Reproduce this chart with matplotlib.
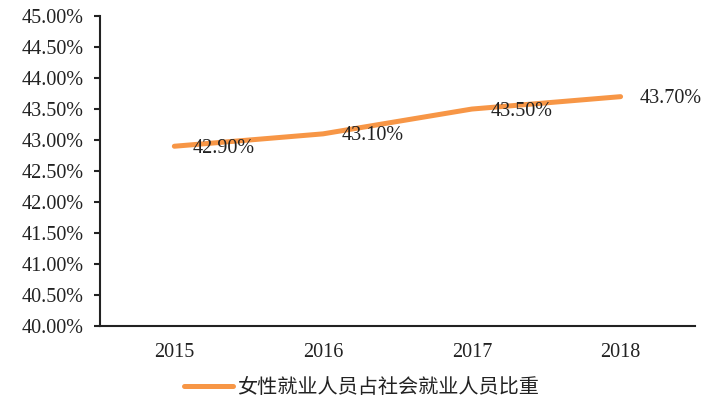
import matplotlib.pyplot as plt
from matplotlib.ticker import FuncFormatter

years = ['2015', '2016', '2017', '2018']
ratio = [42.90, 43.10, 43.50, 43.70]
label = '女性就业人员占社会就业人员比重'

plt.rcParams['font.family'] = ['Liberation Serif', 'Noto Sans CJK SC']

fig = plt.figure(figsize=(7.1, 4.12), dpi=100)
ax = fig.add_axes([0.1408, 0.2087, 0.838, 0.7523])

x = range(len(years))
ax.plot(x, ratio, color='#F79646', lw=3.6, solid_capstyle='round', label=label)
for xi, v in zip(x, ratio):
    ax.annotate('%.2f%%' % v, (xi, v), xytext=(13.5, -1.5), textcoords='offset points',
                ha='left', va='center', fontsize=14.5, color='#222222')

ax.set_xlim(-0.5, len(years) - 0.5)
ax.set_ylim(40, 45)
ax.set_yticks([40 + 0.5 * i for i in range(11)])
ax.yaxis.set_major_formatter(FuncFormatter(lambda v, p: '%.2f%%' % v))
ax.set_xticks(list(x))
ax.set_xticklabels(years)
ax.tick_params(axis='x', length=0, pad=12, labelsize=14.5, labelcolor='#222222')
ax.tick_params(axis='y', length=4.5, width=1.5, labelsize=14.5, pad=7.5,
               labelcolor='#222222', color='#222222')
for s in ['top', 'right']:
    ax.spines[s].set_visible(False)
for s in ['left', 'bottom']:
    ax.spines[s].set_linewidth(1.5)
    ax.spines[s].set_color('#222222')

leg = fig.legend(loc='center', bbox_to_anchor=(0.509, 0.06), frameon=False,
                 handlelength=2.4, handletextpad=0.2,
                 prop={'family': ['Noto Sans CJK SC'], 'size': 14.5})
for t in leg.get_texts():
    t.set_color('#222222')

fig.savefig('out.png', dpi=100)
